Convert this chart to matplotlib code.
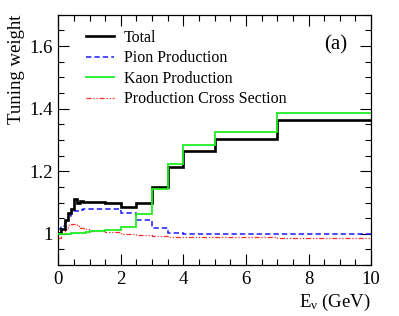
import numpy as np
import matplotlib
matplotlib.use("Agg")
import matplotlib.pyplot as plt
from matplotlib.ticker import MultipleLocator, FuncFormatter
from matplotlib.lines import Line2D

plt.rcParams['font.family'] = ['Liberation Serif', 'DejaVu Serif']
plt.rcParams['mathtext.fontset'] = 'custom'
plt.rcParams['mathtext.rm'] = 'Liberation Serif'
plt.rcParams['mathtext.it'] = 'Liberation Serif:italic'

# Bin edges (GeV)
edges = [0.0, 0.1, 0.2, 0.3, 0.4, 0.5, 0.6, 0.7, 0.8, 0.9, 1.0,
         1.5, 2.0, 2.5, 3.0, 3.5, 4.0, 5.0, 7.0, 10.0]

total = [1.002, 1.015, 1.045, 1.066, 1.078, 1.112, 1.100, 1.104, 1.103, 1.103,
         1.101, 1.097, 1.085, 1.099, 1.149, 1.213, 1.266, 1.304, 1.365]
pion = [1.015, 1.025, 1.045, 1.056, 1.068, 1.072, 1.074, 1.076, 1.078, 1.079,
        1.080, 1.078, 1.067, 1.043, 1.018, 1.004, 0.998, 0.998, 1.000]
kaon = [0.999, 1.000, 1.000, 1.001, 1.002, 1.003, 1.003, 1.004, 1.004, 1.005,
        1.008, 1.012, 1.021, 1.063, 1.144, 1.223, 1.285, 1.327, 1.385]
xsec = [0.988, 1.000, 1.015, 1.027, 1.030, 1.030, 1.025, 1.020, 1.018, 1.015,
        1.010, 1.006, 1.001, 0.996, 0.993, 0.991, 0.990, 0.989, 0.988]

labels = ["Total", "Pion Production", "Kaon Production", "Production Cross Section"]

fig = plt.figure(figsize=(3.99, 3.16), dpi=100)
ax = fig.add_axes([0.146, 0.161, 0.784, 0.792])

dash_blue = (0, (3.5, 2))
dash_red = (0, (4, 1.5, 1, 1.5, 1, 1.5))

ax.stairs(total, edges, color='black', lw=1.9, baseline=None, zorder=3)
ax.stairs(pion, edges, color='#1a1aff', lw=1.1, ls=dash_blue, baseline=None, zorder=2)
ax.stairs(kaon, edges, color='#22ee22', lw=1.3, baseline=None, zorder=4)
ax.stairs(xsec, edges, color='#ff2a2a', lw=0.9, ls=dash_red, baseline=None, zorder=2)

handles = [Line2D([], [], color='black', lw=1.9),
           Line2D([], [], color='#1a1aff', lw=1.1, ls=dash_blue),
           Line2D([], [], color='#22ee22', lw=1.3),
           Line2D([], [], color='#ff2a2a', lw=0.9, ls=dash_red)]
ax.legend(handles, labels, loc='upper left', bbox_to_anchor=(0.09, 0.94),
          frameon=False, fontsize=11.5, labelspacing=0.28, handlelength=1.75,
          handletextpad=0.6, borderpad=0, borderaxespad=0)

ax.text(0.925, 0.88, "(a)", transform=ax.transAxes, fontsize=15, ha='right', va='center')

ax.set_xlim(0, 10)
ax.set_ylim(0.9, 1.7)
ax.xaxis.set_major_locator(MultipleLocator(2))
ax.xaxis.set_minor_locator(MultipleLocator(0.5))
ax.yaxis.set_major_locator(MultipleLocator(0.2))
ax.yaxis.set_minor_locator(MultipleLocator(0.05))
ax.yaxis.set_major_formatter(FuncFormatter(lambda v, p: "%g" % round(v, 3)))
ax.tick_params(which='both', direction='in', top=True, right=True, labelsize=13.5, width=0.8)
ax.tick_params(which='major', length=8, pad=4)
ax.tick_params(which='minor', length=4)
for s in ax.spines.values():
    s.set_linewidth(0.9)

ax.set_ylabel("Tuning weight", fontsize=13.5, loc='top', labelpad=3)
ax.set_xlabel(r"$\mathrm{E}_{\mathrm{\nu}}$ (GeV)", fontsize=13.5, loc='right', labelpad=3)

fig.savefig("out.png", dpi=100)
